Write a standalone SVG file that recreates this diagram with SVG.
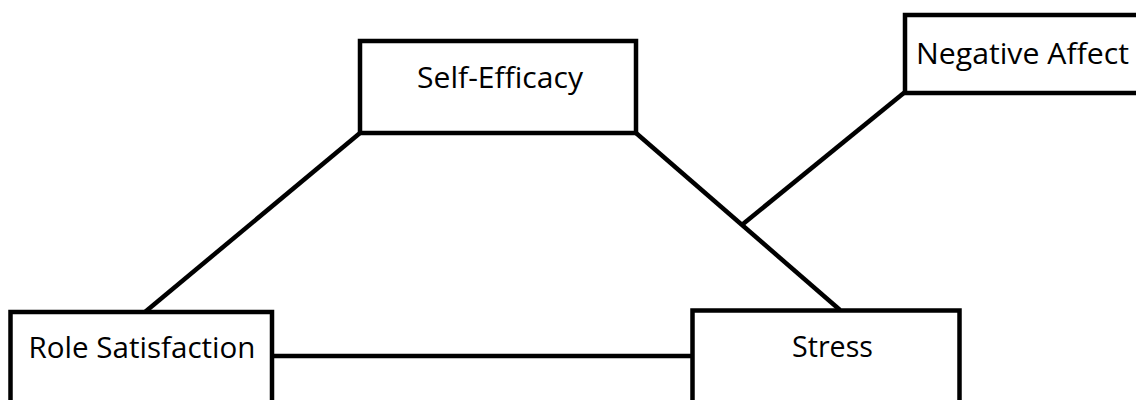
<svg xmlns="http://www.w3.org/2000/svg" width="1136" height="400" viewBox="0 0 1136 400">
<style>
.box{fill:#fff;stroke:#000;stroke-width:4.5}
.lbl{font-family:"Open Sans","Noto Sans",sans-serif;font-size:29px;fill:#000}
.edge{stroke:#000;stroke-width:4.5;fill:none}
</style>
<rect width="1136" height="400" fill="#fff"/>
<g id="connectors">
<line class="edge" x1="360" y1="133" x2="145" y2="312"/>
<line class="edge" x1="636" y1="133" x2="840" y2="310"/>
<line class="edge" x1="905" y1="92" x2="743" y2="224"/>
<line class="edge" x1="272" y1="356" x2="692" y2="356"/>
</g>
<g id="self-efficacy">
<rect class="box" x="360" y="41" width="276" height="92"/>
<text class="lbl" x="417" y="87.5" textLength="166" lengthAdjust="spacingAndGlyphs">Self-Efficacy</text>
</g>
<g id="negative-affect">
<rect class="box" x="905" y="15" width="240" height="78"/>
<text class="lbl" x="916" y="64" textLength="213" lengthAdjust="spacingAndGlyphs">Negative Affect</text>
</g>
<g id="role-satisfaction">
<rect class="box" x="10.5" y="312" width="261.5" height="100"/>
<text class="lbl" x="28.5" y="357.5" textLength="227" lengthAdjust="spacingAndGlyphs">Role Satisfaction</text>
</g>
<g id="stress">
<rect class="box" x="692.5" y="310.5" width="267" height="100"/>
<text class="lbl" x="792" y="357" textLength="81" lengthAdjust="spacingAndGlyphs">Stress</text>
</g>
</svg>
